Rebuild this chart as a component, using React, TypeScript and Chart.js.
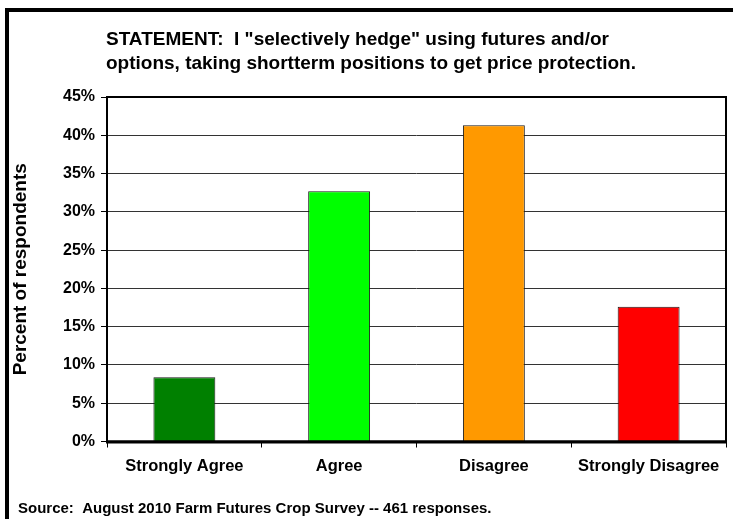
import { useEffect, useRef } from 'react';
import { Chart, registerables } from 'chart.js';

Chart.register(...registerables);

// Survey answers and the share of respondents for each (percent)
const categories = ['Strongly Agree', 'Agree', 'Disagree', 'Strongly Disagree'];
const respondentShare = [8.4, 32.7, 41.3, 17.6];
const barColors = ['#008000', '#00FF00', '#FF9900', '#FF0000'];

// Value axis range and step (percent)
const yMin = 0;
const yMax = 45;
const yStep = 5;

const titleLines = [
  'STATEMENT:  I "selectively hedge" using futures and/or',
  'options, taking shortterm positions to get price protection.',
];
const yAxisTitle = 'Percent of respondents';
const sourceNote = 'Source:  August 2010 Farm Futures Crop Survey -- 461 responses.';

const FONT = '"Liberation Sans", Arial, sans-serif';
const W = 733;
const H = 519;

// Draws the outer frame, the two-line statement, the source note and the plot-area box
const decorPlugin = {
  id: 'decor',
  afterDatasetsDraw(chart: any) {
    const { ctx, chartArea } = chart;
    ctx.save();
    ctx.strokeStyle = '#000';
    ctx.lineWidth = 2;
    ctx.strokeRect(chartArea.left, chartArea.top, chartArea.right - chartArea.left, chartArea.bottom - chartArea.top);
    // slightly heavier category axis line
    ctx.lineWidth = 3;
    ctx.beginPath();
    ctx.moveTo(chartArea.left - 1, chartArea.bottom + 0.5);
    ctx.lineTo(chartArea.right + 1, chartArea.bottom + 0.5);
    ctx.stroke();
    ctx.restore();
  },
  afterDraw(chart: any) {
    const { ctx } = chart;
    ctx.save();
    // outer frame, its right and bottom sides run off the canvas
    ctx.strokeStyle = '#000';
    ctx.lineWidth = 4;
    ctx.strokeRect(7, 10, W + 20, H + 20);

    ctx.fillStyle = '#000';
    ctx.textAlign = 'left';
    ctx.textBaseline = 'alphabetic';
    ctx.font = `bold 19px ${FONT}`;
    ctx.fillText(titleLines[0], 106, 45);
    ctx.fillText(titleLines[1], 106, 69);

    ctx.font = `bold 15px ${FONT}`;
    ctx.fillText(sourceNote, 18, 513);
    ctx.restore();
  },
};

export default function App() {
  const canvasRef = useRef<HTMLCanvasElement | null>(null);

  useEffect(() => {
    document.body.style.margin = '0';
    const canvas = canvasRef.current;
    if (!canvas) return;

    const chart = new Chart(canvas, {
      type: 'bar',
      data: {
        labels: categories,
        datasets: [
          {
            data: respondentShare,
            backgroundColor: barColors,
            borderColor: '#1a1a1a',
            borderWidth: 1,
            barPercentage: 0.4,
            categoryPercentage: 1.0,
          },
        ],
      },
      options: {
        responsive: false,
        animation: false,
        devicePixelRatio: 1,
        layout: { padding: { top: 97, right: 7, left: 0, bottom: 0 } },
        plugins: {
          legend: { display: false },
          title: { display: false },
          tooltip: { enabled: false },
        },
        scales: {
          x: {
            afterFit: (scale: any) => {
              scale.height = 77.5;
            },
            grid: {
              display: true,
              drawOnChartArea: false,
              drawTicks: true,
              tickLength: 6,
              color: '#000',
              tickColor: '#000',
              offset: true,
            },
            border: { display: false },
            ticks: {
              color: '#000',
              padding: 9,
              maxRotation: 0,
              font: { family: FONT, size: 16.5, weight: 'bold' },
            },
          },
          y: {
            min: yMin,
            max: yMax,
            afterFit: (scale: any) => {
              scale.width = 107;
            },
            grid: {
              color: '#333',
              tickColor: '#000',
              lineWidth: 1,
              tickLength: 6,
            },
            border: { display: false },
            ticks: {
              stepSize: yStep,
              color: '#000',
              padding: 6,
              font: { family: FONT, size: 16, weight: 'bold' },
              callback: (v: any) => `${v}%`,
            },
            title: {
              display: true,
              text: yAxisTitle,
              color: '#000',
              padding: { top: 9.5, bottom: 0 },
              font: { family: FONT, size: 19, weight: 'bold' },
            },
          },
        },
      },
      plugins: [decorPlugin],
    });

    return () => chart.destroy();
  }, []);

  return (
    <div style={{ width: W, height: H }}>
      <canvas ref={canvasRef} width={W} height={H} style={{ display: 'block', width: W, height: H }} />
    </div>
  );
}
